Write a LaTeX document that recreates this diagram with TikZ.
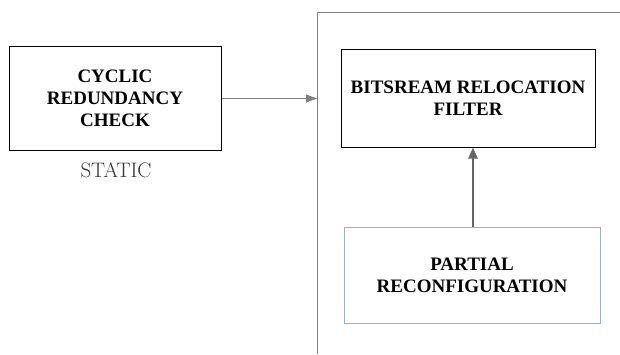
\documentclass[tikz,border=0pt]{standalone}
\usepackage{fontspec}
\newfontfamily\boxfont{Liberation Serif}
\usepackage{tikz}
\usetikzlibrary{arrows.meta,positioning}

\definecolor{linegray}{HTML}{808080}
\definecolor{partblue}{HTML}{9AB0CC}

\begin{document}
\begin{tikzpicture}[
	x=1pt, y=1pt,
	block/.style={rectangle, draw, line width=1pt, align=center, inner sep=2pt,
		font=\boxfont\bfseries\fontsize{19}{22}\selectfont},
	arr/.style={-{Triangle[length=11pt, width=8pt]}, draw=linegray, fill=linegray, line width=0.9pt},
	uparr/.style={-{Triangle[length=11pt, width=9pt]}, draw=gray!80!black, fill=gray!80!black, line width=2.6pt}
]
\useasboundingbox (0,0) rectangle (620,354);

% static side
\node[block, minimum width=212pt, minimum height=103pt] (crc) at (115,255.5) {CYCLIC\\REDUNDANCY\\CHECK};
\node[font=\fontsize{21}{24}\selectfont, text=black!80] (static) at (116,184) {STATIC};

% border of the reconfigurable region
\coordinate (rtop) at (317,342);
\coordinate (rbot) at (317,0);
\coordinate (rend) at (620,342);
\draw[linegray, line width=0.9pt] (rbot) -- (rtop) -- (rend);

% reconfigurable side
\node[block, minimum width=254pt, minimum height=97pt] (filter) at (468,255.5) {BITSREAM RELOCATION\\FILTER};
\node[block, draw=partblue, minimum width=256pt, minimum height=96pt] (partial) at (472,79) {PARTIAL\\RECONFIGURATION};

\coordinate (entry) at (rtop |- crc.east);
\draw[arr] (crc.east) -- (entry);
\draw[uparr] (partial.north -| filter.south) ++(5,0) coordinate (upbot) -- (upbot |- filter.south);
\end{tikzpicture}
\end{document}
